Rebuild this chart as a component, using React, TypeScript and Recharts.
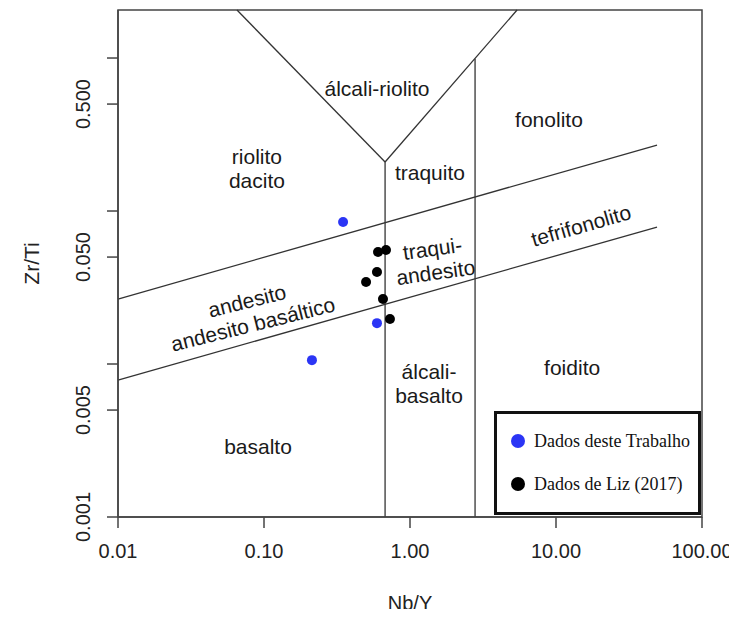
import React from "react"
import {
  ScatterChart,
  Scatter,
  XAxis,
  YAxis,
  ReferenceLine,
  ReferenceArea,
  ReferenceDot,
  Legend,
} from "recharts"

// Nb/Y and Zr/Ti for each sample
const thisWorkNbY = [0.348, 0.594, 0.213]
const thisWorkZrTi = [0.0847, 0.0185, 0.0106]

const lizNbY = [0.604, 0.685, 0.594, 0.5, 0.653, 0.729]
const lizZrTi = [0.054, 0.0556, 0.0399, 0.0344, 0.0266, 0.0197]

const seriesNames = ["Dados deste Trabalho", "Dados de Liz (2017)"]

const xTicks = [0.01, 0.1, 1, 10, 100]
const yTicks = [0.001, 0.005, 0.01, 0.05, 0.1, 0.5, 1]
const yLabelled = [0.001, 0.005, 0.05, 0.5]

const X_DOMAIN = [0.01, 100]
const Y_DOMAIN = [0.001, 2.06]

// field boundaries as [x1, y1, x2, y2]
const boundaries = [
  [0.01, 0.0266, 49.2, 0.27],
  [0.01, 0.00785, 49.2, 0.0785],
  [0.675, 0.001, 0.675, 0.209],
  [2.79, 0.001, 2.79, 0.99],
  [0.0653, 2.06, 0.675, 0.209],
  [0.675, 0.209, 5.41, 2.06],
]

// rock fields (Pearce 1996), anchored at the centre of each name
const fieldNames = [
  "álcali-riolito",
  "fonolito",
  "riolito\ndacito",
  "traquito",
  "traqui-\nandesito",
  "tefrifonolito",
  "andesito\nandesito basáltico",
  "álcali-\nbasalto",
  "foidito",
  "basalto",
]
const fieldNbY = [0.594, 8.95, 0.0895, 1.37, 1.46, 14.8, 0.08, 1.35, 12.9, 0.091]
const fieldZrTi = [0.637, 0.399, 0.191, 0.18, 0.0479, 0.0809, 0.0219, 0.00752, 0.00955, 0.00291]

const ROTATION: Record<string, number> = {
  "traqui-\nandesito": -8,
  tefrifonolito: -16,
  "andesito\nandesito basáltico": -14,
}

const BLUE = "#2b35f5"
const INK = "#333"
const SANS = "'Liberation Sans', Arial, sans-serif"
const SERIF = "'Liberation Serif', 'Times New Roman', serif"

const thisWork = thisWorkNbY.map((x, i) => ({ x, y: thisWorkZrTi[i] }))
const liz = lizNbY.map((x, i) => ({ x, y: lizZrTi[i] }))

function FieldLabel({ cx, cy, text }: { cx: number; cy: number; text: string }) {
  const lines = text.split("\n")
  const lh = 24
  const y0 = cy - ((lines.length - 1) * lh) / 2
  const angle = ROTATION[text]
  return (
    <text
      x={cx}
      y={y0}
      textAnchor="middle"
      dominantBaseline="central"
      fontSize={21}
      fontFamily={SANS}
      fill="#1a1a1a"
      transform={angle ? `rotate(${angle} ${cx} ${cy})` : undefined}
    >
      {lines.map((l, i) => (
        <tspan key={i} x={cx} dy={i === 0 ? 0 : lh}>
          {l}
        </tspan>
      ))}
    </text>
  )
}

function XTick({ x, payload }: any) {
  return (
    <text x={x} y={551} textAnchor="middle" dominantBaseline="central" fontSize={20} fontFamily={SANS} fill="#222">
      {Number(payload.value).toFixed(2)}
    </text>
  )
}

function YTick({ y, payload }: any) {
  if (!yLabelled.includes(payload.value)) return <g />
  return (
    <text
      x={83}
      y={y}
      textAnchor="middle"
      dominantBaseline="central"
      fontSize={20}
      fontFamily={SANS}
      fill="#222"
      transform={`rotate(-90 83 ${y})`}
    >
      {Number(payload.value).toFixed(3)}
    </text>
  )
}

function LegendBox({ payload }: any) {
  const items = [...(payload || [])].sort(
    (a: any, b: any) => seriesNames.indexOf(a.value) - seriesNames.indexOf(b.value)
  )
  return (
    <div
      style={{
        boxSizing: "border-box",
        width: 207,
        height: 104,
        border: "3px solid #111",
        background: "#fff",
        position: "relative",
      }}
    >
      {items.map((p: any, i: number) => (
        <div key={p.value} style={{ position: "absolute", left: 14, top: 17 + 43 * i, height: 20, display: "flex", alignItems: "center" }}>
          <span style={{ width: 14, height: 14, borderRadius: 7, background: p.color, display: "inline-block" }} />
          <span style={{ marginLeft: 9, fontFamily: SERIF, fontSize: 18, color: "#111", whiteSpace: "nowrap" }}>{p.value}</span>
        </div>
      ))}
    </div>
  )
}

export default function App() {
  return (
    <div style={{ margin: -8 }}>
      <ScatterChart width={737} height={617} margin={{ top: 10, right: 35, bottom: 40, left: 8 }}>
        <XAxis
          type="number"
          dataKey="x"
          scale="log"
          domain={X_DOMAIN}
          ticks={xTicks}
          allowDataOverflow
          height={60}
          tickSize={11}
          tick={<XTick />}
          axisLine={{ stroke: "#444", strokeWidth: 1.5 }}
          tickLine={{ stroke: "#444", strokeWidth: 1.5 }}
          label={{
            content: ({ viewBox }: any) => (
              <text x={viewBox.x + viewBox.width / 2} y={603} textAnchor="middle" dominantBaseline="central" fontSize={20} fontFamily={SANS} fill="#222">
                Nb/Y
              </text>
            ),
          }}
        />
        <YAxis
          type="number"
          dataKey="y"
          scale="log"
          domain={Y_DOMAIN}
          ticks={yTicks}
          allowDataOverflow
          width={110}
          tickSize={11}
          tick={<YTick />}
          axisLine={{ stroke: "#444", strokeWidth: 1.5 }}
          tickLine={{ stroke: "#444", strokeWidth: 1.5 }}
          label={{
            content: ({ viewBox }: any) => {
              const cy = viewBox.y + viewBox.height / 2
              return (
                <text x={31} y={cy} textAnchor="middle" dominantBaseline="central" fontSize={21} fontFamily={SANS} fill="#222" transform={`rotate(-90 31 ${cy})`}>
                  Zr/Ti
                </text>
              )
            },
          }}
        />
        <ReferenceArea
          x1={X_DOMAIN[0]}
          x2={X_DOMAIN[1]}
          y1={Y_DOMAIN[0]}
          y2={Y_DOMAIN[1]}
          fill="none"
          stroke="#444"
          strokeWidth={1.5}
          ifOverflow="visible"
        />
        {boundaries.map(([x1, y1, x2, y2], i) => (
          <ReferenceLine
            key={i}
            segment={[
              { x: x1, y: y1 },
              { x: x2, y: y2 },
            ]}
            stroke={INK}
            strokeWidth={1.3}
            ifOverflow="visible"
          />
        ))}
        {fieldNames.map((name, i) => (
          <ReferenceDot
            key={name}
            x={fieldNbY[i]}
            y={fieldZrTi[i]}
            r={0}
            ifOverflow="visible"
            shape={(p: any) => <FieldLabel cx={p.cx} cy={p.cy} text={name} />}
          />
        ))}
        <Scatter
          name={seriesNames[0]}
          data={thisWork}
          fill={BLUE}
          legendType="circle"
          isAnimationActive={false}
          shape={(p: any) => <circle cx={p.cx} cy={p.cy} r={5} fill={BLUE} />}
        />
        <Scatter
          name={seriesNames[1]}
          data={liz}
          fill="#000"
          legendType="circle"
          isAnimationActive={false}
          shape={(p: any) => <circle cx={p.cx} cy={p.cy} r={5} fill="#000" />}
        />
        <Legend
          layout="horizontal"
          verticalAlign="middle"
          align="center"
          content={<LegendBox />}
          wrapperStyle={{ left: 494, top: 411, width: 207, height: 104 }}
        />
      </ScatterChart>
    </div>
  )
}
